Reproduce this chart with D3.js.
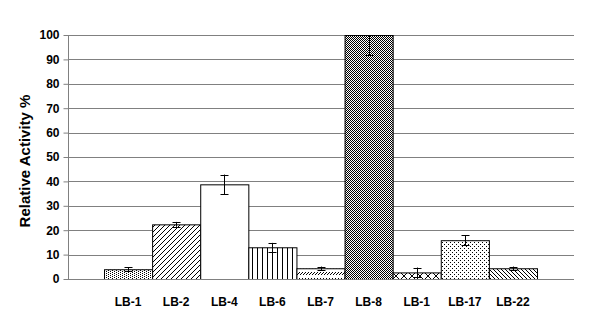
<!DOCTYPE html>
<html>
<head>
<meta charset="utf-8">
<script src="https://cdn.jsdelivr.net/npm/d3@7"></script>
<style>
  body { margin: 0; background: #fff; }
  text { font-family: "Liberation Sans", Arial, sans-serif; font-weight: bold; fill: #000; }
</style>
</head>
<body>
<svg id="chart" width="605" height="333"></svg>
<script>
// data
const categories = ['LB-1', 'LB-2', 'LB-4', 'LB-6', 'LB-7', 'LB-8', 'LB-1 ', 'LB-17', 'LB-22'];
const values = [4.0, 22.4, 38.8, 13.0, 4.4, 100, 2.7, 15.9, 4.4];
const errors = [0.8, 1.0, 4.0, 1.8, 0.7, 8.2, 2.0, 2.0, 0.7];
const patterns = ['dots', 'diagUp', 'none', 'vert', 'dashDiag', 'checker', 'zigzag', 'fineDots', 'diagDown'];
const yTicks = [0, 10, 20, 30, 40, 50, 60, 70, 80, 90, 100];

const svg = d3.select('#chart');
const plotLeft = 68, plotRight = 574, plotTop = 35, plotBottom = 279;

const x = d3.scaleBand().domain(categories).range([104, 537]).padding(0);
const y = d3.scaleLinear().domain([0, 100]).range([plotBottom, plotTop]);

// fill patterns
const defs = svg.append('defs');
function pat(id, w, h, draw) {
  const p = defs.append('pattern').attr('id', id).attr('patternUnits', 'userSpaceOnUse')
    .attr('width', w).attr('height', h);
  p.append('rect').attr('width', w).attr('height', h).attr('fill', '#fff');
  draw(p);
}
function dot(p, cx, cy) { p.append('rect').attr('x', cx).attr('y', cy).attr('width', 1).attr('height', 1).attr('fill', '#000'); }
pat('dots', 4, 2, p => { dot(p, 0, 0); dot(p, 2, 1); });
pat('fineDots', 4, 4, p => { dot(p, 0, 0); dot(p, 2, 2); });
pat('diagUp', 5, 5, p => p.append('path').attr('d', 'M-1,6 L6,-1 M-1,1 L1,-1 M4,6 L6,4').attr('stroke', '#000').attr('stroke-width', 1));
pat('diagDown', 4, 4, p => p.append('path').attr('d', 'M-1,-1 L5,5 M3,-1 L5,1 M-1,3 L1,5').attr('stroke', '#000').attr('stroke-width', 1));
pat('vert', 5, 5, p => p.append('rect').attr('x', 2).attr('width', 1).attr('height', 5).attr('fill', '#000'));
pat('dashDiag', 6, 6, p => p.append('path').attr('d', 'M0,5 L3,2 M3,5 L6,2').attr('stroke', '#000').attr('stroke-width', 1));
pat('checker', 2, 2, p => { dot(p, 0, 0); dot(p, 1, 1); });
pat('zigzag', 8, 8, p => p.append('path').attr('d', 'M0,0 L8,8 M8,0 L0,8').attr('stroke', '#000').attr('stroke-width', 1));
pat('none', 4, 4, p => {});

// gridlines
svg.append('g').selectAll('line').data(yTicks.filter(d => d > 0)).enter().append('line')
  .attr('x1', plotLeft).attr('x2', plotRight)
  .attr('y1', d => Math.round(y(d)) + 0.5).attr('y2', d => Math.round(y(d)) + 0.5)
  .attr('stroke', '#808080').attr('stroke-width', 1);

// bars
svg.append('g').selectAll('rect').data(categories).enter().append('rect')
  .attr('x', d => x(d) + 0.5)
  .attr('y', (d, i) => y(values[i]) + 0.5)
  .attr('width', x.bandwidth())
  .attr('height', (d, i) => y(0) - y(values[i]))
  .attr('fill', (d, i) => 'url(#' + patterns[i] + ')')
  .attr('stroke', '#000').attr('stroke-width', 1);

// error bars, clipped at the top of the plot
defs.append('clipPath').attr('id', 'plotClip').append('rect')
  .attr('x', plotLeft).attr('y', plotTop).attr('width', plotRight - plotLeft).attr('height', plotBottom - plotTop);
const eb = svg.append('g').attr('clip-path', 'url(#plotClip)')
  .selectAll('g').data(categories).enter().append('g')
  .attr('transform', d => 'translate(' + (Math.round(x(d) + x.bandwidth() / 2) + 0.5) + ',0)');
eb.append('line').attr('y1', (d, i) => y(values[i] + errors[i])).attr('y2', (d, i) => y(values[i] - errors[i]))
  .attr('stroke', '#000');
eb.append('line').attr('x1', -4).attr('x2', 4)
  .attr('y1', (d, i) => Math.round(y(values[i] + errors[i])) + 0.5).attr('y2', (d, i) => Math.round(y(values[i] + errors[i])) + 0.5)
  .attr('stroke', '#000');
eb.append('line').attr('x1', -4).attr('x2', 4)
  .attr('y1', (d, i) => Math.round(y(values[i] - errors[i])) + 0.5).attr('y2', (d, i) => Math.round(y(values[i] - errors[i])) + 0.5)
  .attr('stroke', '#000');

// y axis
const gY = svg.append('g').attr('transform', 'translate(' + (plotLeft + 0.5) + ',0)')
  .call(d3.axisLeft(y).tickValues(yTicks).tickSize(5).tickPadding(4));
gY.select('.domain').attr('stroke', '#808080').attr('d', 'M0,' + plotTop + 'V' + plotBottom);
gY.selectAll('.tick line').attr('stroke', '#808080');
gY.selectAll('.tick text').style('font-size', '12px').attr('font-family', null);

// x axis line
svg.append('line').attr('x1', plotLeft).attr('x2', plotRight)
  .attr('y1', plotBottom + 0.5).attr('y2', plotBottom + 0.5).attr('stroke', '#808080');

// category labels
svg.append('g').selectAll('text').data(categories).enter().append('text')
  .attr('x', d => x(d) + x.bandwidth() / 2)
  .attr('y', 306)
  .attr('text-anchor', 'middle')
  .style('font-size', '12px')
  .text(d => d.trim());

// y title
svg.append('text')
  .attr('transform', 'translate(30,' + 161 + ') rotate(-90)')
  .attr('text-anchor', 'middle')
  .style('font-size', '15px')
  .text('Relative Activity %');
</script>
</body>
</html>
